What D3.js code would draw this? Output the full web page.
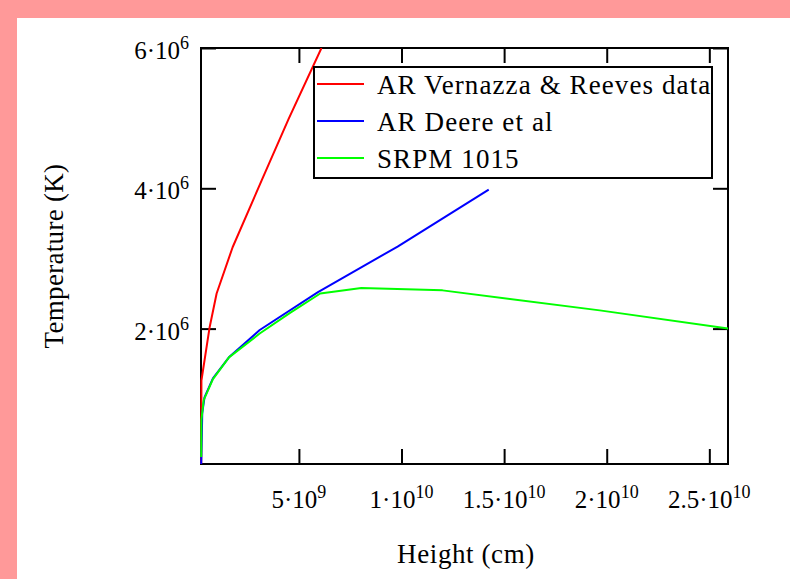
<!DOCTYPE html>
<html>
<head>
<meta charset="utf-8">
<script src="https://cdn.jsdelivr.net/npm/d3@7"></script>
<style>
  html, body { margin: 0; padding: 0; background: #ff9999; }
  svg { display: block; }
</style>
</head>
<body>
<script>
// ---- data ----
const redHeight   = [2.4e8, 2.5e8, 6.5e8, 9.9e8, 1.77e9, 3.18e9, 4.5e9, 6.1e9];
const redTemp     = [7.0e4, 1.26e6, 2.02e6, 2.5e6, 3.16e6, 4.11e6, 4.99e6, 6.0e6];

const blueHeight  = [2.4e8, 2.9e8, 4.0e8, 8.1e8, 1.59e9, 3.09e9, 5.93e9, 9.81e9, 1.425e10];
const blueTemp    = [7.0e4, 7.95e5, 1.02e6, 1.29e6, 1.59e6, 1.98e6, 2.52e6, 3.17e6, 3.98e6];

const greenHeight = [2.4e8, 2.5e8, 3.6e8, 8.1e8, 1.59e9, 3.09e9, 4.55e9, 6.04e9, 8.04e9, 1.2e10, 1.966e10, 2.591e10];
const greenTemp   = [1.7e5, 7.0e5, 9.8e5, 1.28e6, 1.59e6, 1.93e6, 2.22e6, 2.50e6, 2.58e6, 2.545e6, 2.26e6, 2.0e6];

const seriesNames = ["AR Vernazza & Reeves data", "AR Deere et al", "SRPM 1015"];
const seriesColors = ["#ff0000", "#0000ff", "#00ff00"];

const xTicks = [5e9, 1e10, 1.5e10, 2e10, 2.5e10];
const xTickMant = ["5", "1", "1.5", "2", "2.5"];
const xTickExp  = ["9", "10", "10", "10", "10"];
const yTicks = [2e6, 4e6, 6e6];
const yTickMant = ["2", "4", "6"];
const yTickExp  = ["6", "6", "6"];

const xDomain = [2.29e8, 2.591e10];
const yDomain = [7.0e4, 6.0e6];

// ---- layout ----
const W = 790, H = 579;
const plot = {left: 201, right: 728, top: 48, bottom: 464};

const svg = d3.select("body").append("svg").attr("width", W).attr("height", H);
svg.append("rect").attr("x", 17).attr("y", 18).attr("width", W - 17).attr("height", H - 18).attr("fill", "#ffffff");

const x = d3.scaleLinear().domain(xDomain).range([plot.left, plot.right]);
const y = d3.scaleLinear().domain(yDomain).range([plot.bottom, plot.top]);

const font = "'Liberation Serif', 'Times New Roman', serif";

// clip
svg.append("clipPath").attr("id", "clip").append("rect")
  .attr("x", plot.left - 1).attr("y", plot.top).attr("width", plot.right - plot.left + 2).attr("height", plot.bottom - plot.top + 1);

// axes (ticks inward on all four sides)
const tickLen = 15;
const axB = d3.axisBottom(x).tickValues(xTicks).tickSize(-tickLen).tickFormat("");
const axT = d3.axisTop(x).tickValues(xTicks).tickSize(-tickLen).tickFormat("");
const axL = d3.axisLeft(y).tickValues(yTicks).tickSize(-tickLen).tickFormat("");
const axR = d3.axisRight(y).tickValues(yTicks).tickSize(-tickLen).tickFormat("");
function styleAxis(g) {
  g.select(".domain").remove();
  g.selectAll(".tick line").attr("stroke", "#000").attr("stroke-width", 2);
}
svg.append("g").attr("transform", `translate(0,${plot.bottom})`).call(axB).call(styleAxis);
svg.append("g").attr("transform", `translate(0,${plot.top})`).call(axT).call(styleAxis);
svg.append("g").attr("transform", `translate(${plot.left},0)`).call(axL).call(styleAxis);
svg.append("g").attr("transform", `translate(${plot.right},0)`).call(axR).call(styleAxis);

// frame
svg.append("rect").attr("x", plot.left).attr("y", plot.top)
  .attr("width", plot.right - plot.left).attr("height", plot.bottom - plot.top)
  .attr("fill", "none").attr("stroke", "#000").attr("stroke-width", 2);

// tick labels
const xl = svg.append("g");
xTicks.forEach((v, i) => {
  const t = xl.append("text").attr("x", x(v)).attr("y", 508).attr("text-anchor", "middle")
    .attr("font-family", font).attr("font-size", 25).attr("fill", "#000");
  t.append("tspan").text(xTickMant[i] + "\u00B7" + "10");
  t.append("tspan").attr("dy", -10).attr("font-size", 18).text(xTickExp[i]);
});
const yl = svg.append("g");
yTicks.forEach((v, i) => {
  const t = yl.append("text").attr("x", 189).attr("y", y(v) + 11).attr("text-anchor", "end")
    .attr("font-family", font).attr("font-size", 25).attr("fill", "#000");
  t.append("tspan").text(yTickMant[i] + "\u00B7" + "10");
  t.append("tspan").attr("dy", -10).attr("font-size", 18).text(yTickExp[i]);
});

// axis titles
svg.append("text").attr("transform", `translate(63,${(plot.top + plot.bottom) / 2}) rotate(-90)`)
  .attr("text-anchor", "middle").attr("font-family", font).attr("font-size", 27).attr("fill", "#000")
  .attr("letter-spacing", 0.3)
  .text("Temperature (K)");
svg.append("text").attr("x", 466).attr("y", 563).attr("text-anchor", "middle")
  .attr("font-family", font).attr("font-size", 27).attr("fill", "#000")
  .attr("letter-spacing", 0.6)
  .text("Height (cm)");

// lines
const series = [
  {h: redHeight, t: redTemp},
  {h: blueHeight, t: blueTemp},
  {h: greenHeight, t: greenTemp}
];
const line = d3.line().x(d => x(d[0])).y(d => y(d[1]));
const lg = svg.append("g").attr("clip-path", "url(#clip)");
series.forEach((s, i) => {
  const pts = s.h.map((h, j) => [h, s.t[j]]);
  lg.append("path").datum(pts).attr("d", line)
    .attr("fill", "none").attr("stroke", seriesColors[i]).attr("stroke-width", 2)
    .attr("stroke-linejoin", "round");
});

// legend
const leg = svg.append("g");
leg.append("rect").attr("x", 314).attr("y", 67).attr("width", 398).attr("height", 111)
  .attr("fill", "#fff").attr("stroke", "#000").attr("stroke-width", 2);
seriesNames.forEach((n, i) => {
  const yy = 84 + i * 37;
  leg.append("line").attr("x1", 317).attr("x2", 364).attr("y1", yy).attr("y2", yy)
    .attr("stroke", seriesColors[i]).attr("stroke-width", 2);
  leg.append("text").attr("x", 377).attr("y", yy + 10).attr("font-family", font)
    .attr("font-size", 27).attr("letter-spacing", 1.1).attr("fill", "#000").text(n);
});
</script>
</body>
</html>
